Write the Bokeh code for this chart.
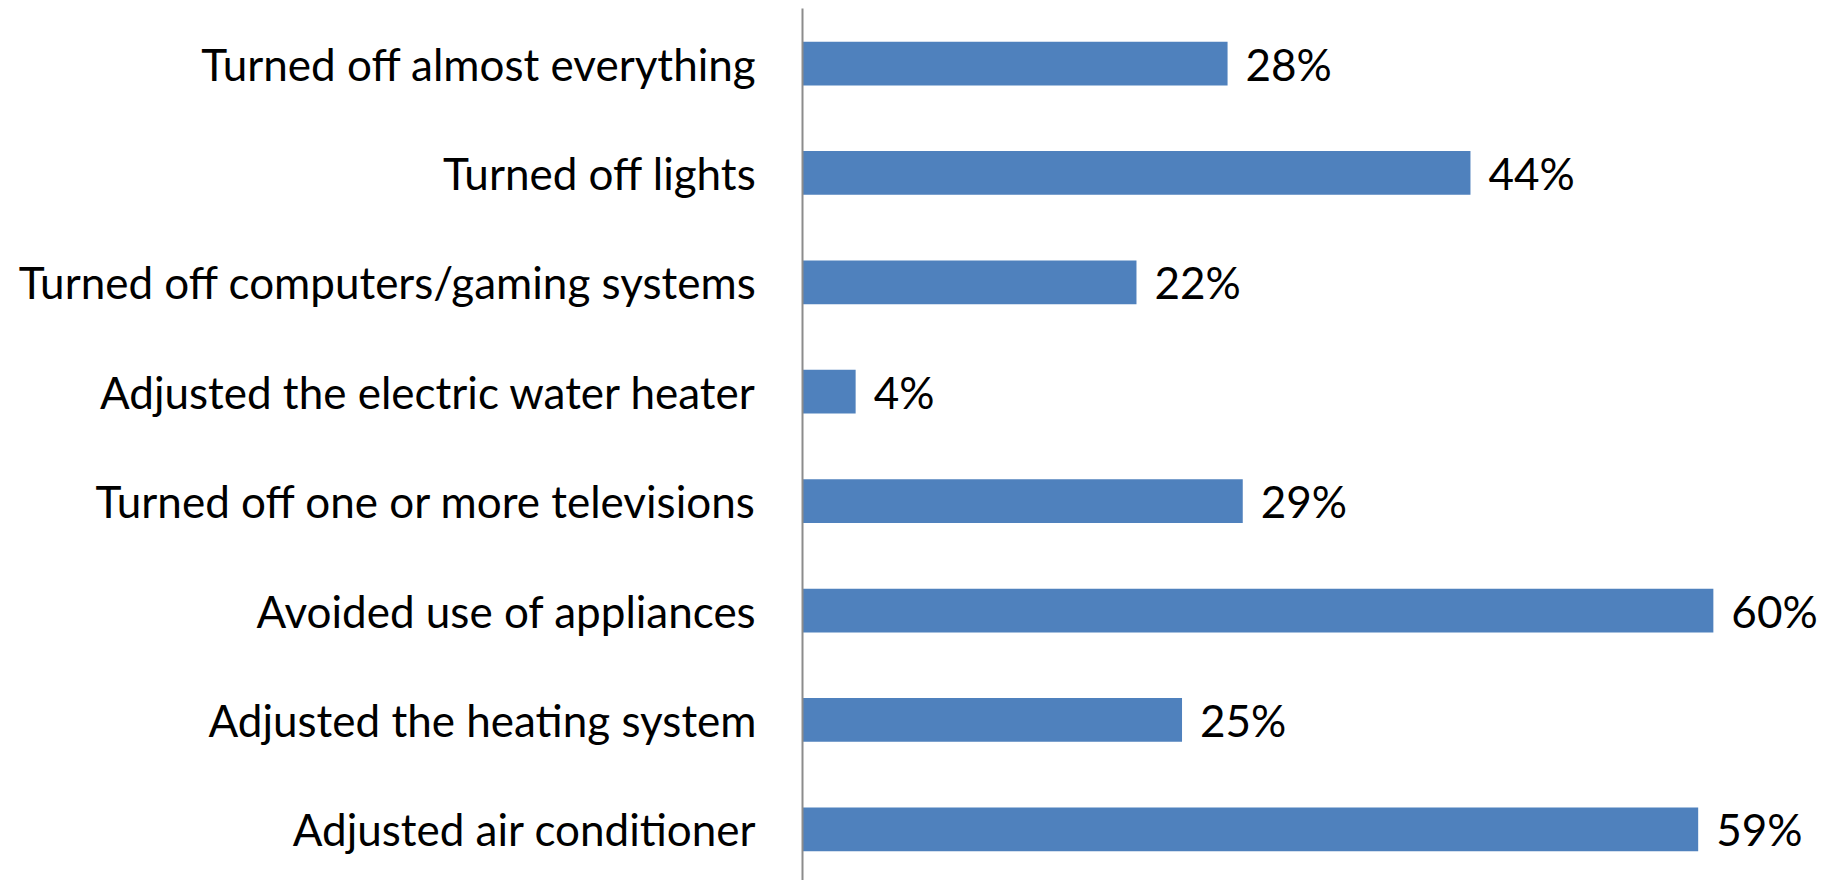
from bokeh.plotting import figure
from bokeh.models import ColumnDataSource, Range1d, FixedTicker
from bokeh.core.properties import value
from bokeh.embed import file_html
from bokeh.resources import INLINE

categories = [
    "Turned off almost everything",
    "Turned off lights",
    "Turned off computers/gaming systems",
    "Adjusted the electric water heater",
    "Turned off one or more televisions",
    "Avoided use of appliances",
    "Adjusted the heating system",
    "Adjusted air conditioner",
]
values = [28, 44, 22, 3.5, 29, 60, 25, 59]
value_labels = ["28%", "44%", "22%", "4%", "29%", "60%", "25%", "59%"]

n = len(categories)
ypos = [n - 1 - i for i in range(n)]

src = ColumnDataSource(dict(y=ypos, v=values, lab=value_labels, cat=categories))

FONT = "Lato"

p = figure(
    width=1829, height=880,
    output_backend="svg", toolbar_location=None,
    x_range=Range1d(0, 67.65), y_range=Range1d(-0.468, 7.503),
    min_border_left=802, min_border_right=0, min_border_top=8, min_border_bottom=0,
    background_fill_color="white", border_fill_color="white",
)
p.outline_line_color = None
p.grid.visible = False
p.xaxis.visible = False

p.hbar(y="y", left=0, right="v", height=0.4, source=src,
       fill_color="#4F81BD", line_color=None)

p.text(x="v", y="y", text="lab", source=src, x_offset=18,
       text_baseline="middle", text_align="left",
       text_font=value(FONT), text_font_size="44px", text_color="black")

yax = p.yaxis[0]
yax.ticker = FixedTicker(ticks=ypos)
yax.major_label_overrides = {yy: c for yy, c in zip(ypos, categories)}
yax.major_label_text_font = FONT
yax.major_label_text_font_size = "44px"
yax.major_label_text_color = "black"
yax.major_tick_out = 0
yax.major_tick_in = 0
yax.minor_tick_out = 0
yax.minor_tick_in = 0
yax.major_label_standoff = 46
yax.axis_line_color = "#8c8c8c"
yax.axis_line_width = 2

open("out.html", "w").write(file_html(p, INLINE))
